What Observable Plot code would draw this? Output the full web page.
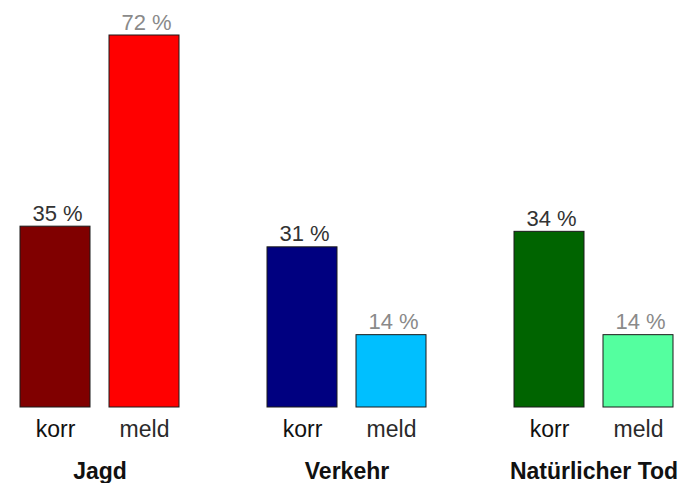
<!DOCTYPE html>
<html>
<head>
<meta charset="utf-8">
<script src="https://cdn.jsdelivr.net/npm/d3@7"></script>
<script src="https://cdn.jsdelivr.net/npm/@observablehq/plot@0.6"></script>
<style>
  html, body { margin: 0; padding: 0; background: #fff; }
  #chart svg { display: block; }
</style>
</head>
<body>
<div id="chart"></div>
<script>
const groups = ["Jagd", "Verkehr", "Natürlicher Tod"];
const types = ["korr", "meld"];
const korrValues = [35, 31, 34];
const meldValues = [72, 14, 14];
const korrColors = ["#800000", "#000080", "#006400"];
const meldColors = ["#ff0000", "#00bfff", "#54ff9f"];

const data = [];
groups.forEach((g, i) => {
  data.push({group: g, type: "korr", value: korrValues[i], color: korrColors[i]});
  data.push({group: g, type: "meld", value: meldValues[i], color: meldColors[i]});
});

const font = "'Liberation Sans', Arial, sans-serif";

const chart = Plot.plot({
  width: 689,
  height: 483,
  marginTop: 35,
  marginBottom: 76,
  marginLeft: 18,
  marginRight: 15,
  style: {fontFamily: font, background: "#fff"},
  fx: {domain: groups, paddingInner: 0.35, paddingOuter: 0, axis: null, label: null},
  x: {domain: types, paddingInner: 0.211, paddingOuter: 0, axis: null, label: null},
  y: {domain: [0, 72], axis: null},
  color: {type: "identity"},
  marks: [
    Plot.barY(data, {fx: "group", x: "type", y: "value", fill: "color", stroke: "#1a1a1a", strokeWidth: 1}),
    Plot.text(data, {
      fx: "group", x: "type", y: "value",
      text: d => d.value + " %",
      lineAnchor: "bottom", dy: -6, dx: 2,
      fontSize: 22,
      fill: d => d.type === "korr" ? "#333333" : "#8a8a8a"
    }),
    Plot.text(data, {
      fx: "group", x: "type",
      text: "type",
      frameAnchor: "bottom", lineAnchor: "bottom", dy: 29,
      fontSize: 23,
      fill: d => d.type === "korr" ? "#111111" : "#2a2a2a"
    }),
    Plot.text(groups, {
      fx: d => d,
      text: d => d,
      frameAnchor: "bottom", lineAnchor: "bottom", dy: 71,
      fontSize: 23, fontWeight: "bold", fill: "#111111"
    })
  ]
});
document.getElementById("chart").appendChild(chart);
</script>
</body>
</html>
